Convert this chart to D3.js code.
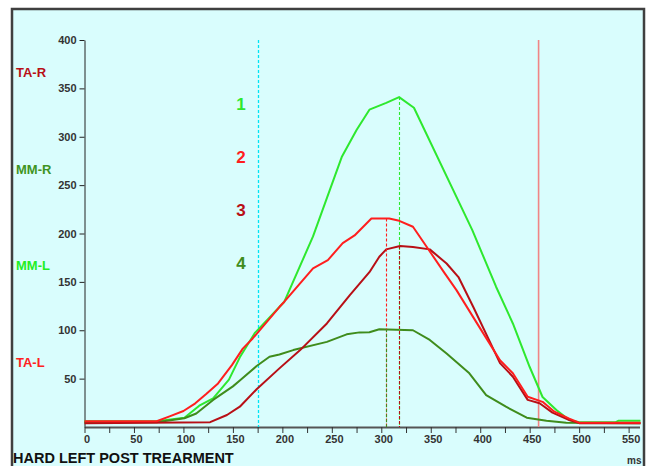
<!DOCTYPE html>
<html>
<head>
<meta charset="utf-8">
<script src="https://cdn.jsdelivr.net/npm/d3@7"></script>
<style>
  body { margin: 0; background: #fff; }
  svg { display: block; font-family: "Liberation Sans", Arial, sans-serif; }
</style>
</head>
<body>
<svg id="chart" width="647" height="466"></svg>
<script>
// series: [ms, value]
var series1 = [[0, 6], [73, 6], [101, 9.5], [116, 22], [130, 29.5], [146, 49], [157, 72], [172, 97],
  [202, 129.5], [231, 197], [248, 245], [260, 279], [275, 307], [288, 328], [305, 335], [318, 341],
  [333, 330], [392, 203.5], [416, 145], [433, 107], [450, 62], [463, 31], [477, 17.5], [490, 7.2],
  [500, 5], [537, 5], [540, 6.5], [562, 6.5]];
var series2 = [[0, 6], [73, 6], [86, 11], [100, 16.5], [112, 24.5], [123, 34], [135, 45], [149, 64],
  [160, 81], [170, 91.5], [197, 124], [202, 129.5], [231, 164], [246, 172.5], [261, 190], [273, 198],
  [290, 215.5], [308, 215.5], [317, 213.5], [332, 207], [346, 186], [364, 159], [376, 141.5],
  [399, 103.5], [420, 69], [433, 55.5], [448, 31.3], [463, 26], [475, 15.8], [490, 8.6], [500, 4.5],
  [562, 4.5]];
var series3 = [[0, 4], [127, 5], [144, 12.4], [157, 21], [174, 39], [197, 60.6], [218, 79.5],
  [245, 107], [268, 136], [288, 160], [298, 176], [305, 183.6], [319, 187], [332, 186], [349, 183.6],
  [366, 169], [378, 155], [393, 124], [420, 66], [433, 52], [448, 28], [460, 24.5], [473, 14.8],
  [490, 7.2], [500, 4], [562, 4]];
var series4 = [[0, 5], [73, 5], [101, 9], [113, 14], [130, 28], [150, 42], [157, 48], [174, 63],
  [187, 72.6], [197, 75], [211, 79.5], [245, 88], [265, 95.8], [278, 97.8], [288, 98], [298, 101],
  [332, 100], [349, 90], [366, 76], [389, 55.5], [406, 33], [426, 21], [447, 9.6], [467, 6.5],
  [487, 4.4], [562, 4]];

var seriesNames = ["1", "2", "3", "4"];
var seriesColors = ["#2ee82e", "#ff1e1e", "#b80f16", "#3f8c1c"];
var markerTimes = [318, 305, 318, 305];
var markerValues = [341, 215.5, 187, 101];
var channelNames = ["TA-R", "MM-R", "MM-L", "TA-L"];
var channelColors = ["#b80f16", "#3f9422", "#22ee22", "#ff2020"];
var cursorTimes = [175, 459];
var xTicks = d3.range(0, 575, 25);
var yTicks = [50, 100, 150, 200, 250, 300, 350, 400];

Chart();

function Chart() {
  var svg = d3.select("#chart"),
    X0 = 84.5, X1 = 639.5, Y0 = 427, Y1 = 40;

  var x = d3.scaleLinear().domain([0, 561]).range([X0, X1]);
  var y = d3.scaleLinear().domain([0, 400]).range([Y0, Y1]);
  // snap thin vertical lines to the pixel grid
  var px = function (t) { return Math.round(x(t)) + 0.5; };

  // panel
  svg.append("rect")
    .attr("x", 12).attr("y", 9)
    .attr("width", 632).attr("height", 480)
    .attr("fill", "#d9fdfd")
    .attr("stroke", "#3f3f3f")
    .attr("stroke-width", 2.5);

  // channel labels on the left
  svg.selectAll(".chan")
    .data(channelNames)
    .enter().append("text")
    .attr("x", 16)
    .attr("y", function (d, i) { return [77, 174, 270, 367][i]; })
    .attr("fill", function (d, i) { return channelColors[i]; })
    .attr("font-size", 13)
    .attr("font-weight", "bold")
    .text(function (d) { return d; });

  // numbers
  svg.selectAll(".num")
    .data(seriesNames)
    .enter().append("text")
    .attr("x", 241)
    .attr("y", function (d, i) { return 110 + i * 53; })
    .attr("text-anchor", "middle")
    .attr("fill", function (d, i) { return seriesColors[i]; })
    .attr("font-size", 17)
    .attr("font-weight", "bold")
    .text(function (d) { return d; });

  // axes
  var yAxis = svg.append("g")
    .attr("transform", "translate(" + X0 + ",0)")
    .call(d3.axisLeft(y).tickValues(yTicks).tickSize(5).tickSizeOuter(0).tickPadding(3));
  yAxis.select(".domain").attr("stroke", "#222");
  yAxis.selectAll(".tick line").attr("stroke", "#222");
  yAxis.selectAll("text")
    .attr("font-size", 11).attr("font-weight", "bold").attr("fill", "#333")
    .attr("font-family", "Liberation Sans, Arial, sans-serif");

  var xAxis = svg.append("g")
    .attr("transform", "translate(0," + Y0 + ")")
    .call(d3.axisBottom(x).tickValues(xTicks).tickSize(6).tickSizeOuter(0).tickPadding(2)
      .tickFormat(function (d) { return d % 50 === 0 ? d : ""; }));
  xAxis.select(".domain").attr("stroke", "#555").attr("stroke-width", 2);
  xAxis.selectAll(".tick line").attr("stroke", "#333");
  xAxis.selectAll("text")
    .attr("dx", 2)
    .attr("font-size", 11).attr("font-weight", "bold").attr("fill", "#333")
    .attr("font-family", "Liberation Sans, Arial, sans-serif");

  // cursors
  svg.append("line")
    .attr("x1", px(cursorTimes[0])).attr("x2", px(cursorTimes[0]))
    .attr("y1", y(400)).attr("y2", Y0)
    .attr("stroke", "#00e4f4").attr("stroke-width", 1.3)
    .attr("stroke-dasharray", "3,2");
  svg.append("line")
    .attr("x1", x(cursorTimes[1])).attr("x2", x(cursorTimes[1]))
    .attr("y1", y(400)).attr("y2", Y0)
    .attr("stroke", "#f08585").attr("stroke-width", 1.6);

  var lineFunc = d3.line()
    .x(function (d) { return x(d[0]); })
    .y(function (d) { return y(d[1]); });

  var all = [series1, series2, series3, series4];
  [0, 3, 2, 1].forEach(function (i) {
    svg.append("path")
      .attr("d", lineFunc(all[i]))
      .attr("stroke", seriesColors[i])
      .attr("stroke-width", 2)
      .attr("stroke-linejoin", "round")
      .attr("fill", "none");
  });

  // peak markers
  [1, 0, 3, 2].forEach(function (i) {
    svg.append("line")
      .attr("x1", px(markerTimes[i])).attr("x2", px(markerTimes[i]))
      .attr("y1", y(markerValues[i])).attr("y2", Y0)
      .attr("stroke", seriesColors[i]).attr("stroke-width", 1.1)
      .attr("stroke-dasharray", "3,2");
  });

  svg.append("text")
    .attr("x", 627).attr("y", 464)
    .attr("font-size", 10).attr("font-weight", "bold").attr("fill", "#333")
    .text("ms");

  svg.append("text")
    .attr("x", 13).attr("y", 463)
    .attr("font-size", 14.5).attr("font-weight", "bold").attr("fill", "#111")
    .text("HARD LEFT POST TREARMENT");
}
</script>
</body>
</html>
